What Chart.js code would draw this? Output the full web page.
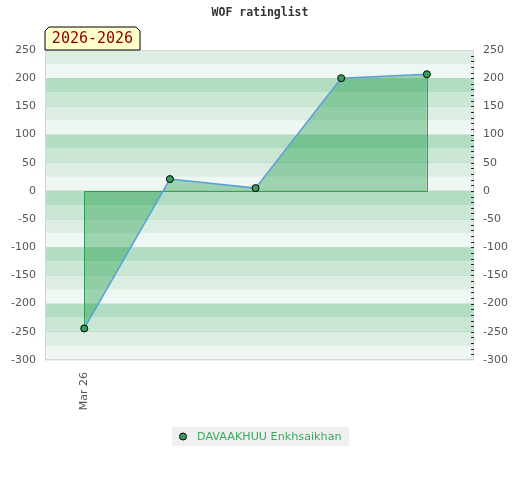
<!DOCTYPE html>
<html>
<head>
<meta charset="utf-8">
<script src="https://cdn.jsdelivr.net/npm/chart.js@4"></script>
<style>
  html, body { margin:0; padding:0; background:#fff; }
  #wrap { width:520px; height:480px; }
</style>
</head>
<body>
<div id="wrap"><canvas id="c" width="520" height="480"></canvas></div>
<script>
// data
const chartTitle = 'WOF ratinglist';
const periodLabel = '2026-2026';
const playerName = 'DAVAAKHUU Enkhsaikhan';
const xTickLabels = ['Mar 26'];
const xIndex = [0, 1, 2, 3, 4];
const ratings = [-244, 21, 5, 200, 207];
const yMin = -300, yMax = 250, yStep = 50;

const bandColors = ['#eff7f2', '#dceee3', '#c9e7d4', '#b3ddc3'];
const points = xIndex.map((x, i) => ({ x, y: ratings[i] }));

const stripes = {
  id: 'stripes',
  beforeDraw(chart){
    const { ctx, chartArea: a, scales: { y } } = chart;
    ctx.save();
    for (let v = yMin; v < yMax; v += 25) {
      const k = (((v % 100) + 100) % 100) / 25;
      const t = y.getPixelForValue(v + 25), b = y.getPixelForValue(v);
      ctx.fillStyle = bandColors[k];
      ctx.fillRect(a.left, t, a.right - a.left, b - t);
    }
    ctx.restore();
  },
  beforeDatasetsDraw(chart){
    // green outline of the filled area (edges + baseline)
    const { ctx, scales: { x, y } } = chart;
    const first = points[0], last = points[points.length - 1];
    const y0 = y.getPixelForValue(0);
    ctx.save();
    ctx.strokeStyle = '#35a05a';
    ctx.lineWidth = 1;
    ctx.beginPath();
    ctx.moveTo(Math.round(x.getPixelForValue(first.x)) + 0.5, y.getPixelForValue(first.y));
    ctx.lineTo(Math.round(x.getPixelForValue(first.x)) + 0.5, Math.round(y0) + 0.5);
    ctx.lineTo(Math.round(x.getPixelForValue(last.x)) + 0.5, Math.round(y0) + 0.5);
    ctx.lineTo(Math.round(x.getPixelForValue(last.x)) + 0.5, y.getPixelForValue(last.y));
    ctx.stroke();
    ctx.restore();
  },
  afterDraw(chart){
    const { ctx, chartArea: a, scales: { y } } = chart;
    ctx.save();
    // plot border
    ctx.strokeStyle = '#d6d6d6';
    ctx.lineWidth = 1;
    ctx.strokeRect(a.left + 0.5, a.top + 0.5, a.right - a.left - 1, a.bottom - a.top - 1);
    // minor ticks on right side
    ctx.strokeStyle = '#222';
    ctx.beginPath();
    for (let v = yMin + 10; v < yMax; v += 10) {
      const py = Math.round(y.getPixelForValue(v)) + 0.5;
      ctx.moveTo(a.right - 3, py); ctx.lineTo(a.right, py);
    }
    ctx.stroke();
    // title
    ctx.fillStyle = '#333';
    ctx.font = 'bold 11.5px "DejaVu Sans Mono"';
    ctx.textAlign = 'center';
    ctx.textBaseline = 'middle';
    ctx.fillText(chartTitle, 260, 13);
    // period badge
    const bx = a.left, bw = 95, by = 27, bh = a.top - 27, c = 4;
    ctx.beginPath();
    ctx.moveTo(bx, by + bh); ctx.lineTo(bx, by + c); ctx.lineTo(bx + c, by);
    ctx.lineTo(bx + bw - c, by); ctx.lineTo(bx + bw, by + c); ctx.lineTo(bx + bw, by + bh);
    ctx.closePath();
    ctx.fillStyle = '#ffffcc'; ctx.fill();
    ctx.strokeStyle = '#000'; ctx.stroke();
    ctx.fillStyle = '#8b0000';
    ctx.font = '15px "DejaVu Sans Mono"';
    ctx.textAlign = 'center';
    ctx.fillText(periodLabel, bx + bw / 2, by + bh / 2 + 1);
    // legend
    ctx.fillStyle = '#f0f0f0';
    ctx.fillRect(172, 427, 177, 19);
    ctx.beginPath();
    ctx.arc(183, 436.5, 3.5, 0, Math.PI * 2);
    ctx.fillStyle = '#3a9d5d'; ctx.fill();
    ctx.strokeStyle = '#000'; ctx.stroke();
    ctx.fillStyle = '#3aa860';
    ctx.font = '11.2px "DejaVu Sans"';
    ctx.textAlign = 'left';
    ctx.fillText(playerName, 197, 437);
    ctx.restore();
  }
};

const tickFont = { family: 'DejaVu Sans', size: 11 };

new Chart(document.getElementById('c'), {
  type: 'line',
  data: {
    datasets: [{
      label: playerName,
      data: points,
      borderColor: '#5a9fd8',
      borderWidth: 1.5,
      backgroundColor: 'rgba(15,150,60,0.37)',
      fill: 'origin',
      tension: 0,
      pointRadius: 3.5,
      pointBackgroundColor: '#3a9d5d',
      pointBorderColor: '#000',
      pointBorderWidth: 1
    }]
  },
  options: {
    responsive: false,
    animation: false,
    layout: { padding: { top: 50, left: 0, right: 0, bottom: 0 } },
    plugins: { legend: { display: false }, title: { display: false }, tooltip: { enabled: false } },
    scales: {
      x: {
        type: 'linear',
        min: -0.458, max: 4.55,
        afterBuildTicks: s => { s.ticks = xTickLabels.map((_, i) => ({ value: i })); },
        afterFit: s => { s.height = 120; },
        grid: { display: false },
        border: { display: false },
        ticks: { callback: (v, i) => xTickLabels[i], minRotation: 90, maxRotation: 90, padding: 4, color: '#555', font: tickFont }
      },
      y: {
        min: yMin, max: yMax,
        afterFit: s => { s.width = 45; },
        grid: { color: 'rgba(0,0,0,0.07)', drawTicks: false },
        border: { display: false },
        ticks: { stepSize: yStep, padding: 9, color: '#555', font: tickFont }
      },
      y2: {
        position: 'right',
        min: yMin, max: yMax,
        afterFit: s => { s.width = 46; },
        grid: { drawOnChartArea: false, drawTicks: false },
        border: { display: false },
        ticks: { stepSize: yStep, padding: 9, color: '#555', font: tickFont }
      }
    }
  },
  plugins: [stripes]
});
</script>
</body>
</html>
